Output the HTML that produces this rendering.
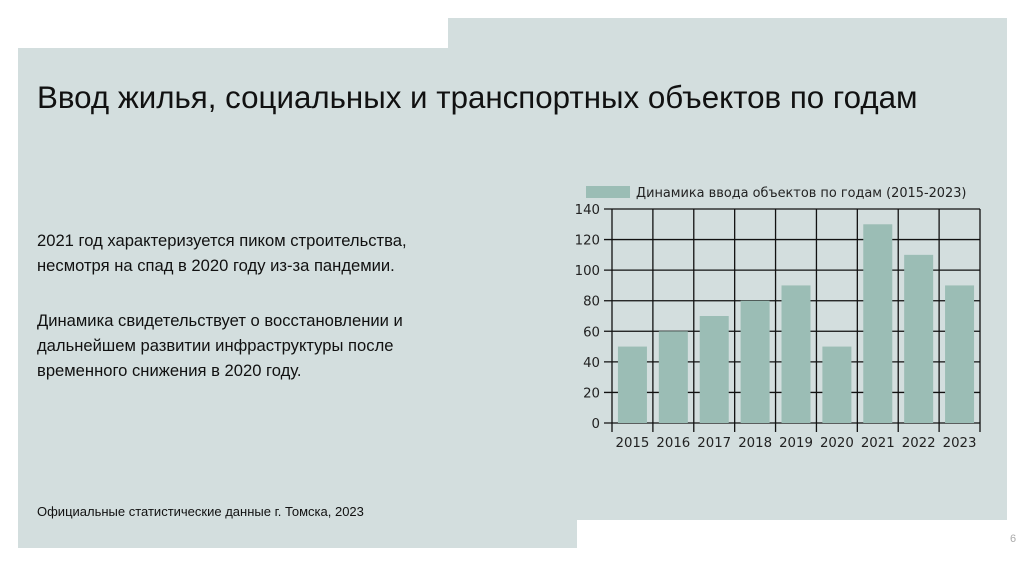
<!DOCTYPE html>
<html><head><meta charset="utf-8"><style>
body{margin:0;width:1024px;height:574px;background:#fff;position:relative;overflow:hidden;font-family:"Liberation Sans",sans-serif;}
.p{position:absolute;background:#d3dede;}
.t{position:absolute;color:#111;white-space:nowrap;}
</style></head><body>
<div class="p" style="left:18px;top:48px;width:559px;height:500px"></div>
<div class="p" style="left:448px;top:18px;width:559px;height:502px"></div>
<div class="t" style="left:37px;top:80px;font-size:31.3px;">Ввод жилья, социальных и транспортных объектов по годам</div>
<div class="t" style="left:37px;top:228px;font-size:16.6px;line-height:25px;">2021 год характеризуется пиком строительства,<br>несмотря на спад в 2020 году из-за пандемии.</div>
<div class="t" style="left:37px;top:308px;font-size:16.6px;line-height:25px;">Динамика свидетельствует о восстановлении и<br>дальнейшем развитии инфраструктуры после<br>временного снижения в 2020 году.</div>
<div class="t" style="left:37px;top:504px;font-size:13px;">Официальные статистические данные г. Томска, 2023</div>
<div class="t" style="left:1010px;top:533px;font-size:11px;color:#aaa;">6</div>
<svg id="c" width="1024" height="574" style="position:absolute;left:0;top:0;font-family:'DejaVu Sans',sans-serif;"></svg>
<script>
const categories=["2015","2016","2017","2018","2019","2020","2021","2022","2023"];
const values=[50,60,70,80,90,50,130,110,90];
const ticks=[0,20,40,60,80,100,120,140];
const svg=document.getElementById('c');
const NS='http://www.w3.org/2000/svg';
const x0=612,x1=980,y0=423,y1=209,ymax=140;
const bw=(x1-x0)/categories.length;
const y=v=>y0-(v/ymax)*(y0-y1);
function mk(t,a){const e=document.createElementNS(NS,t);for(const k in a)e.setAttribute(k,a[k]);svg.appendChild(e);return e;}
ticks.forEach(v=>{
 const l=mk('line',{x1:604,x2:x1,y1:y(v),y2:y(v),stroke:'#111','stroke-width':1.3});
 
 
 const t=mk('text',{x:600,y:y(v)+5,'text-anchor':'end','font-size':13.3,fill:'#222'});t.textContent=v;
 
 
});
for(let i=0;i<=categories.length;i++){
 const l=mk('line',{x1:x0+i*bw,x2:x0+i*bw,y1:y1,y2:y0+9,stroke:'#111','stroke-width':1.3});
 
 
}
categories.forEach((c,i)=>{
 const bwid=29,cx=x0+(i+0.5)*bw;
 const r=mk('rect',{x:cx-bwid/2,y:y(values[i]),width:bwid,height:y0-y(values[i]),fill:'#9bbdb5'});
 
 
 const t=mk('text',{x:cx,y:447,'text-anchor':'middle','font-size':13.3,fill:'#222'});t.textContent=c;
 
 
});
const lb=mk('rect',{x:586,y:186,width:44,height:12,fill:'#9bbdb5'});


const lt=mk('text',{x:636,y:197,'font-size':12.9,fill:'#222'});lt.textContent='Динамика ввода объектов по годам (2015-2023)';


</script>
</body></html>
